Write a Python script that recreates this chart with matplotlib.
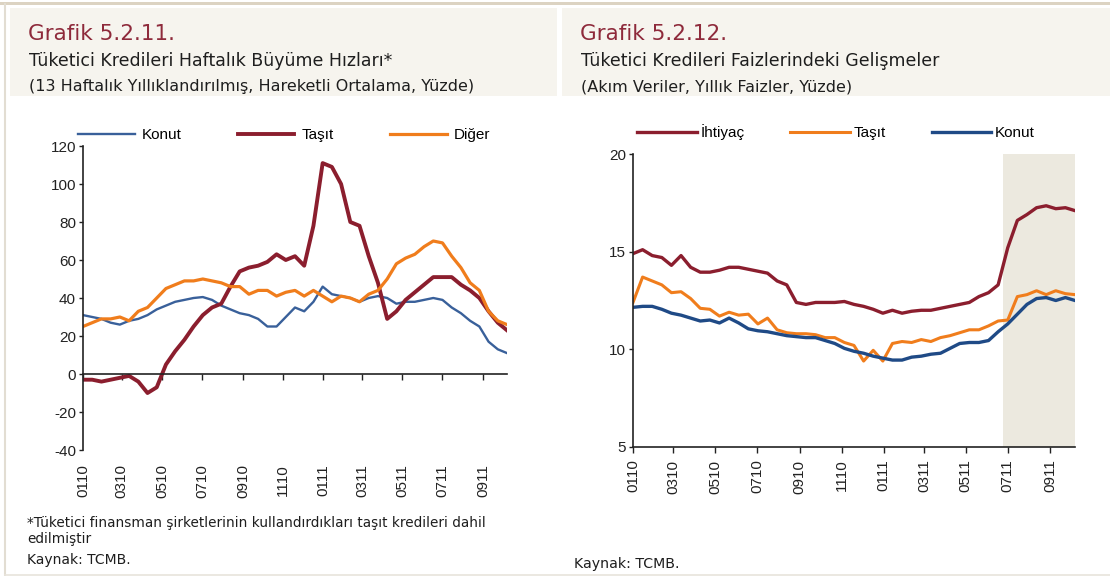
import matplotlib
matplotlib.use("Agg")
import matplotlib.pyplot as plt
from matplotlib.patches import Rectangle
from matplotlib.lines import Line2D
import pandas as pd

plt.rcParams["axes.unicode_minus"] = False

# ---------------- data ----------------
dates = pd.date_range("2010-01-01", periods=47, freq="14D")

# Grafik 5.2.11 (growth rates, %)
left_konut = [31, 30, 29, 27, 26, 28, 29, 31, 34, 36, 38, 39, 40, 40.5, 39, 36,
              34, 32, 31, 29, 25, 25, 30, 35, 33, 38, 46, 42, 41, 40, 38, 40,
              41, 40, 37, 38, 38, 39, 40, 39, 35, 32, 28, 25, 17, 13, 11]
left_tasit = [-3, -3, -4, -3, -2, -1, -4, -10, -7, 5, 12, 18, 25, 31, 35, 37,
              46, 54, 56, 57, 59, 63, 60, 62, 57, 78, 111, 109, 100, 80, 78, 62,
              48, 29, 33, 39, 43, 47, 51, 51, 51, 47, 44, 40, 33, 27, 23]
left_diger = [25, 27, 29, 29, 30, 28, 33, 35, 40, 45, 47, 49, 49, 50, 49, 48,
              46, 46, 42, 44, 44, 41, 43, 44, 41, 44, 41, 38, 41, 40, 38, 42,
              44, 50, 58, 61, 63, 67, 70, 69, 62, 56, 48, 44, 33, 28, 26]

# Grafik 5.2.12 (interest rates, %)
right_ihtiyac = [14.9, 15.1, 14.8, 14.7, 14.3, 14.8, 14.2, 13.95, 13.95, 14.05,
                 14.2, 14.2, 14.1, 14.0, 13.9, 13.5, 13.3, 12.4, 12.3, 12.4,
                 12.4, 12.4, 12.45, 12.3, 12.2, 12.05, 11.85, 12.0, 11.85, 11.95,
                 12.0, 12.0, 12.1, 12.2, 12.3, 12.4, 12.7, 12.9, 13.3, 15.2,
                 16.6, 16.9, 17.25, 17.35, 17.2, 17.25, 17.1]
right_tasit = [12.4, 13.7, 13.5, 13.3, 12.9, 12.95, 12.6, 12.1, 12.05, 11.7,
               11.9, 11.75, 11.8, 11.3, 11.6, 11.0, 10.85, 10.8, 10.8, 10.75,
               10.6, 10.6, 10.35, 10.2, 9.4, 9.95, 9.4, 10.3, 10.4, 10.35,
               10.5, 10.4, 10.6, 10.7, 10.85, 11.0, 11.0, 11.2, 11.45, 11.5,
               12.7, 12.8, 13.0, 12.8, 13.0, 12.85, 12.8]
right_konut = [12.15, 12.2, 12.2, 12.05, 11.85, 11.75, 11.6, 11.45, 11.5, 11.35,
               11.6, 11.35, 11.05, 10.95, 10.9, 10.8, 10.7, 10.65, 10.6, 10.6,
               10.45, 10.3, 10.05, 9.9, 9.8, 9.65, 9.55, 9.45, 9.45, 9.6,
               9.65, 9.75, 9.8, 10.05, 10.3, 10.35, 10.35, 10.45, 10.9, 11.3,
               11.8, 12.3, 12.6, 12.65, 12.5, 12.65, 12.5]
shade_start = "2011-06-24"

tick_dates = pd.date_range("2010-01-01", "2011-09-01", freq="2MS")
tick_labels = [d.strftime("%m%y") for d in tick_dates]

left_labels = ["Konut", "Taşıt", "Diğer"]
right_labels = ["İhtiyaç", "Taşıt", "Konut"]

# ---------------- style ----------------
RED = "#8b1e2e"
ORANGE = "#f07d1c"
BLUE_L = "#39609a"
BLUE_R = "#1f4a86"
HEAD_RED = "#8e2a3b"
TXT = "#1e1e1e"
HEAD_BG = "#f6f4ee"
SHADE = "#ece9df"
AX_FONT = "Liberation Sans"
HEAD_FONT = "DejaVu Sans"

W, H = 1110, 576
fig = plt.figure(figsize=(W / 100, H / 100), dpi=100)
fig.patch.set_facecolor("white")


def fx(x):
    return x / W


def fy(y):
    return 1 - y / H


# frame and header boxes
fig.add_artist(Rectangle((fx(0), fy(4.5)), 1, 2.5 / H, transform=fig.transFigure,
                         facecolor="#dcd3c2", edgecolor="none"))
fig.add_artist(Line2D([fx(5), fx(5)], [fy(4), fy(575)], transform=fig.transFigure,
                      color="#e2ddd2", lw=1.5))
fig.add_artist(Line2D([fx(5), fx(1110)], [fy(575), fy(575)], transform=fig.transFigure,
                      color="#e8e4dc", lw=1.2))
fig.add_artist(Rectangle((fx(10), fy(96)), (557 - 10) / W, 88 / H, transform=fig.transFigure,
                         facecolor=HEAD_BG, edgecolor="none"))
fig.add_artist(Rectangle((fx(562), fy(96)), (1110 - 562) / W, 88 / H, transform=fig.transFigure,
                         facecolor=HEAD_BG, edgecolor="none"))

# header texts
for x0, t1, t2, t3 in [
    (28, "Grafik 5.2.11.", "Tüketici Kredileri Haftalık Büyüme Hızları*",
     "(13 Haftalık Yıllıklandırılmış, Hareketli Ortalama, Yüzde)"),
    (580, "Grafik 5.2.12.", "Tüketici Kredileri Faizlerindeki Gelişmeler",
     "(Akım Veriler, Yıllık Faizler, Yüzde)"),
]:
    fig.text(fx(x0), fy(40), t1, fontsize=15.5, color=HEAD_RED, family=HEAD_FONT, va="baseline")
    fig.text(fx(x0 + 1), fy(66), t2, fontsize=12.5, color=TXT, family=HEAD_FONT, va="baseline")
    fig.text(fx(x0 + 1), fy(91), t3, fontsize=11.5, color=TXT, family=HEAD_FONT, va="baseline")

# footers
fig.text(fx(27), fy(527), "*Tüketici finansman şirketlerinin kullandırdıkları taşıt kredileri dahil",
         fontsize=9.8, color=TXT, family=HEAD_FONT, va="baseline")
fig.text(fx(27), fy(543), "edilmiştir", fontsize=9.8, color=TXT, family=HEAD_FONT, va="baseline")
fig.text(fx(27), fy(564), "Kaynak: TCMB.", fontsize=10, color=TXT, family=HEAD_FONT, va="baseline")
fig.text(fx(574), fy(568), "Kaynak: TCMB.", fontsize=10.2, color=TXT, family=HEAD_FONT, va="baseline")

# ---------------- left chart ----------------
axL = fig.add_axes([fx(83), fy(450), (507 - 83) / W, (450 - 146) / H])
lk, = axL.plot(dates, left_konut, color=BLUE_L, lw=1.7)
lt, = axL.plot(dates, left_tasit, color=RED, lw=2.8)
ld, = axL.plot(dates, left_diger, color=ORANGE, lw=2.3)
axL.set_ylim(-40, 120)
axL.set_yticks(range(-40, 121, 20))
axL.set_xlim(dates[0], dates[-1])
axL.spines["bottom"].set_position(("data", 0))
for s in ["top", "right"]:
    axL.spines[s].set_visible(False)
for s in ["left", "bottom"]:
    axL.spines[s].set_color("#222222")
    axL.spines[s].set_linewidth(1.2)
axL.set_xticks(tick_dates)
axL.set_xticklabels(tick_labels, rotation=90)
axL.tick_params(axis="x", direction="out", length=4, width=1, pad=61, colors="#222222")
axL.tick_params(axis="y", direction="out", length=3, width=1, pad=2, colors="#222222")
for lab in axL.get_xticklabels() + axL.get_yticklabels():
    lab.set_family(AX_FONT)
    lab.set_fontsize(11)
axL.legend([lk, lt, ld], left_labels, loc="center left",
           bbox_to_anchor=(fx(78), fy(135)), bbox_transform=fig.transFigure,
           ncol=3, frameon=False, handlelength=3.7, handletextpad=0.45,
           columnspacing=3.7, borderpad=0, borderaxespad=0,
           prop={"family": AX_FONT, "size": 11})

# ---------------- right chart ----------------
axR = fig.add_axes([fx(633), fy(447), (1075 - 633) / W, (447 - 154) / H])
axR.axvspan(pd.Timestamp(shade_start), dates[-1], color=SHADE, lw=0, zorder=0)
ri, = axR.plot(dates, right_ihtiyac, color=RED, lw=2.4)
rt, = axR.plot(dates, right_tasit, color=ORANGE, lw=2.2)
rk, = axR.plot(dates, right_konut, color=BLUE_R, lw=2.4)
axR.set_ylim(5, 20)
axR.set_yticks([5, 10, 15, 20])
axR.set_xlim(dates[0], dates[-1])
for s in ["top", "right"]:
    axR.spines[s].set_visible(False)
for s in ["left", "bottom"]:
    axR.spines[s].set_color("#222222")
    axR.spines[s].set_linewidth(1.2)
axR.set_xticks(tick_dates)
axR.set_xticklabels(tick_labels, rotation=90)
axR.tick_params(axis="x", direction="out", length=4, width=1, pad=5, colors="#222222")
axR.tick_params(axis="y", direction="out", length=3, width=1, pad=2, colors="#222222")
for lab in axR.get_xticklabels() + axR.get_yticklabels():
    lab.set_family(AX_FONT)
    lab.set_fontsize(11)
axR.legend([ri, rt, rk], right_labels, loc="center left",
           bbox_to_anchor=(fx(637), fy(132)), bbox_transform=fig.transFigure,
           ncol=3, frameon=False, handlelength=3.9, handletextpad=0.25,
           columnspacing=3.0, borderpad=0, borderaxespad=0,
           prop={"family": AX_FONT, "size": 11})

fig.savefig("out.png", dpi=100)
